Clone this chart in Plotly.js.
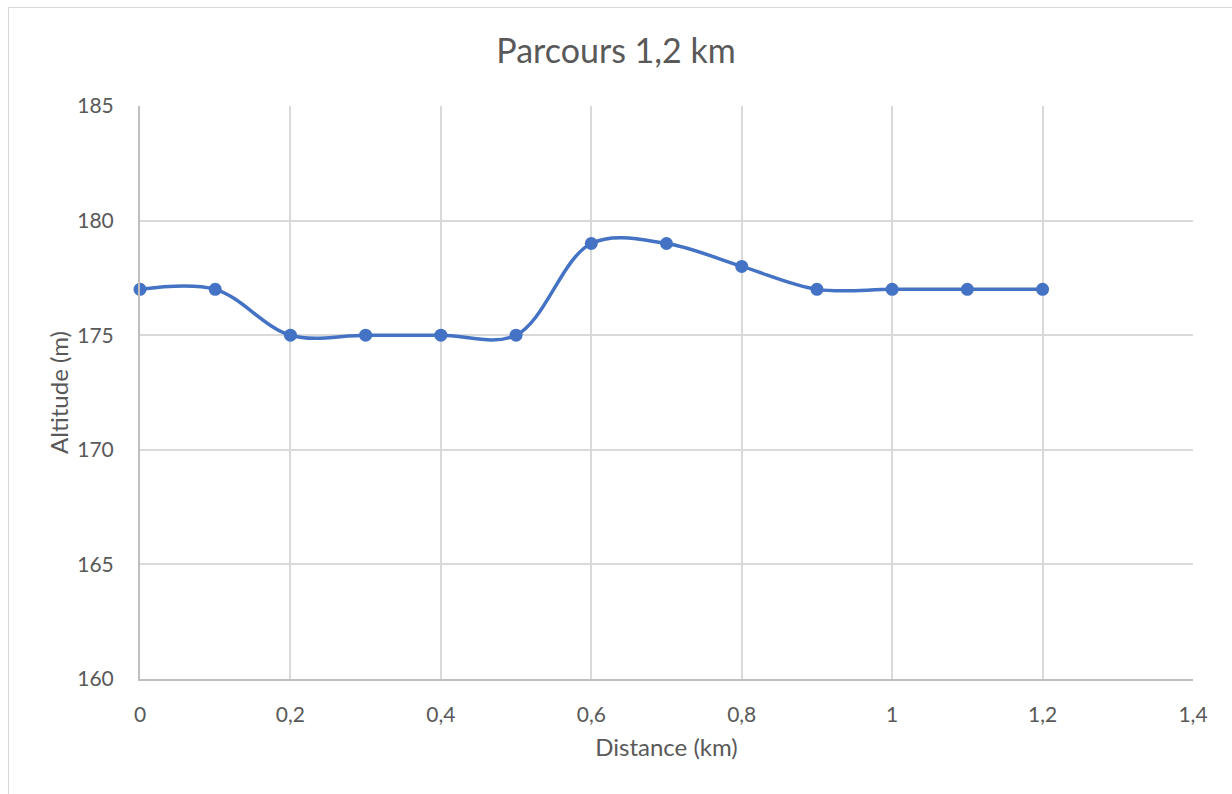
<!DOCTYPE html>
<html>
<head>
<meta charset="utf-8">
<script src="https://cdn.plot.ly/plotly-3.0.1.min.js"></script>
<style>
html,body{margin:0;padding:0;background:#fff;}
#wrap{position:relative;width:1232px;height:794px;overflow:hidden;}
#frame{position:absolute;left:8px;top:7px;width:1300px;height:900px;border:1px solid #d9d9d9;box-sizing:border-box;pointer-events:none;}
#chart{position:absolute;left:0;top:0;width:1232px;height:794px;}
</style>
</head>
<body>
<div id="wrap">
<div id="chart"></div>
<div id="frame"></div>
</div>
<script>
const distance = [0, 0.1, 0.2, 0.3, 0.4, 0.5, 0.6, 0.7, 0.8, 0.9, 1.0, 1.1, 1.2];
const altitude = [177, 177, 175, 175, 175, 175, 179, 179, 178, 177, 177, 177, 177];
const chartTitle = "Parcours 1,2 km";
const xTitle = "Distance (km)";
const yTitle = "Altitude (m)";

const font = "Lato, 'Open Sans', sans-serif";
const textColor = "#595959";

const trace = {
  x: distance,
  y: altitude,
  type: "scatter",
  mode: "lines+markers",
  line: {color: "#4472C4", width: 3.5, shape: "spline", smoothing: 1},
  marker: {color: "#4472C4", size: 13},
  hoverinfo: "x+y",
  cliponaxis: false
};

const layout = {
  width: 1232,
  height: 794,
  margin: {l: 140, r: 39, t: 106, b: 115},
  paper_bgcolor: "rgba(0,0,0,0)",
  plot_bgcolor: "#fff",
  separators: ", ",
  showlegend: false,
  font: {family: font, color: textColor},
  title: {text: chartTitle, font: {family: font, size: 34, color: textColor}, x: 0.5, xanchor: "center", y: 1 - 51/794, yanchor: "middle"},
  xaxis: {
    range: [0, 1.4], dtick: 0.2, tick0: 0,
    showgrid: true, gridcolor: "#d9d9d9", gridwidth: 2,
    showline: true, linecolor: "#bfbfbf", linewidth: 2,
    zeroline: false, ticks: "outside", ticklen: 16, tickcolor: "rgba(0,0,0,0)",
    tickfont: {family: font, size: 21, color: textColor},
    title: {text: xTitle, font: {family: font, size: 24, color: textColor}, standoff: 14},
    automargin: false
  },
  yaxis: {
    range: [160, 185], dtick: 5, tick0: 160,
    showgrid: true, gridcolor: "#d9d9d9", gridwidth: 2,
    showline: true, linecolor: "#bfbfbf", linewidth: 2,
    zeroline: false, ticks: "outside", ticklen: 20, tickcolor: "rgba(0,0,0,0)",
    tickfont: {family: font, size: 21, color: textColor},
    title: {text: yTitle, font: {family: font, size: 24, color: textColor}, standoff: 2},
    automargin: false
  }
};

Plotly.newPlot("chart", [trace], layout, {displayModeBar: false});
</script>
</body>
</html>
